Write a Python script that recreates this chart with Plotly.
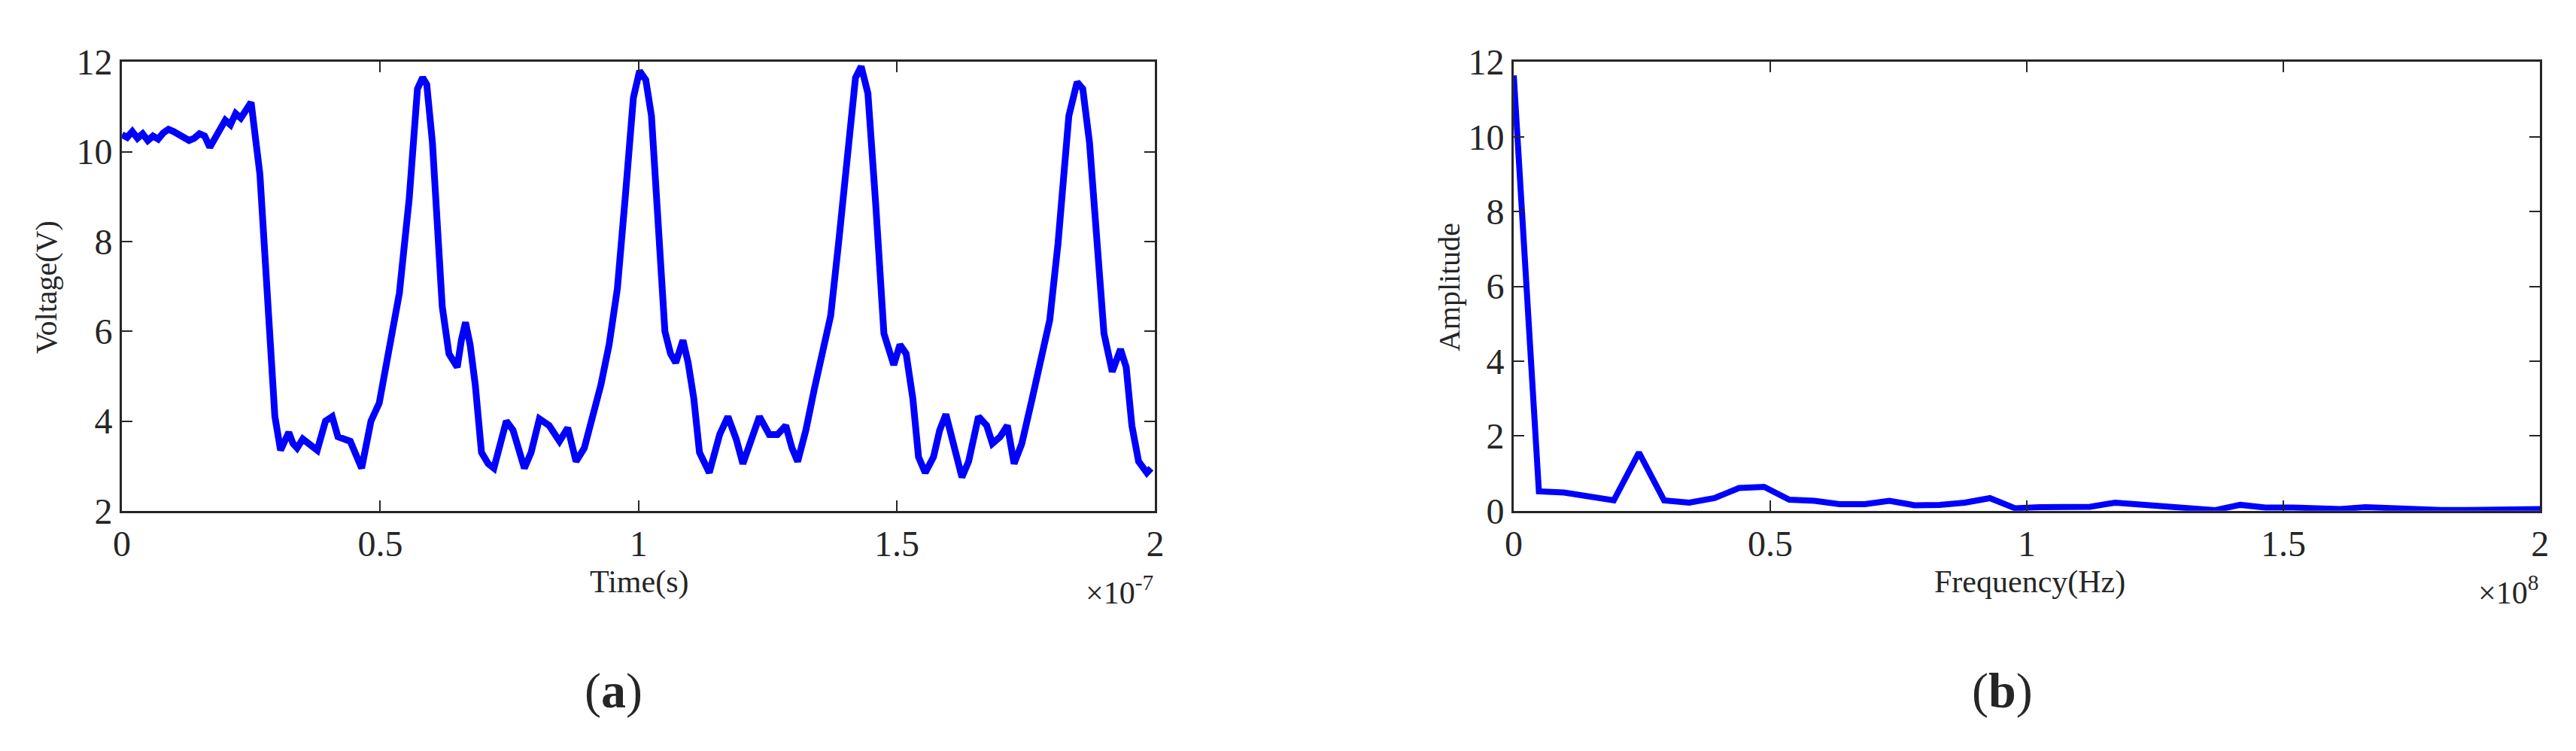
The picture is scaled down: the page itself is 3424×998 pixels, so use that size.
import plotly.graph_objects as go

# Time domain (x in units of 1e-7 s)
time_s = [0.0,0.01,0.02,0.03,0.04,0.05,0.06,0.07,0.08,0.09,0.10,0.11,0.12,0.13,0.14,0.15,0.16,0.17,0.18,0.19,0.20,0.21,0.22,0.23,0.24,0.25,
          0.267,0.283,0.296,0.307,0.323,0.331,0.339,0.35,0.36,0.378,0.394,0.407,0.418,0.442,0.464,0.482,0.498,0.521,0.537,0.556,0.572,0.582,0.590,
          0.601,0.609,0.620,0.633,0.649,0.657,0.665,0.674,0.684,0.696,0.709,0.720,0.731,0.744,0.757,0.768,0.779,0.792,0.808,0.827,0.847,0.863,
          0.879,0.895,0.911,0.927,0.943,0.959,0.974,0.990,1.002,1.014,1.025,1.038,1.051,1.062,1.072,1.086,1.096,1.107,1.118,1.137,1.157,1.173,
          1.189,1.202,1.218,1.234,1.253,1.269,1.285,1.297,1.308,1.324,1.340,1.356,1.372,1.388,1.404,1.420,1.431,1.444,1.459,1.475,1.494,1.506,
          1.518,1.531,1.542,1.555,1.571,1.583,1.595,1.610,1.626,1.639,1.658,1.674,1.685,1.700,1.714,1.727,1.742,1.762,1.777,1.796,1.812,1.833,
          1.849,1.860,1.873,1.886,1.901,1.917,1.933,1.944,1.955,1.968,1.984,1.992]
voltage = [10.38,10.32,10.45,10.3,10.4,10.25,10.35,10.28,10.42,10.5,10.45,10.38,10.3,10.25,10.3,10.4,10.35,10.1,10.3,10.5,10.7,10.6,10.85,10.75,10.95,11.1,
           9.5,6.2,4.1,3.35,3.75,3.5,3.4,3.6,3.5,3.35,4.0,4.1,3.65,3.55,2.95,4.0,4.4,5.9,6.85,8.95,11.4,11.65,11.5,
           10.2,8.6,6.55,5.5,5.2,5.8,6.2,5.7,4.8,3.3,3.05,2.95,3.5,4.0,3.8,3.35,2.95,3.3,4.05,3.9,3.55,3.85,
           3.1,3.4,4.1,4.8,5.7,6.95,8.95,11.2,11.8,11.6,10.8,8.45,6.0,5.5,5.3,5.8,5.3,4.5,3.3,2.85,3.7,4.1,
           3.6,3.05,3.6,4.1,3.7,3.7,3.9,3.4,3.1,3.8,4.7,5.5,6.35,8.05,10.0,11.65,11.9,11.3,8.85,5.95,5.25,5.7,
           5.5,4.5,3.2,2.85,3.2,3.8,4.15,3.4,2.75,3.1,4.1,3.9,3.5,3.65,3.9,3.05,3.5,4.5,5.3,6.25,7.95,10.8,
           11.55,11.4,10.2,8.25,5.95,5.1,5.6,5.2,3.9,3.1,2.85,2.95]

# Spectrum (x in units of 1e8 Hz)
freq_hz = [0.0,0.049,0.098,0.146,0.195,0.244,0.293,0.342,0.391,0.439,0.488,0.537,0.586,0.635,0.684,0.732,0.781,0.830,0.879,0.928,0.977,
           1.025,1.074,1.123,1.172,1.221,1.270,1.318,1.367,1.416,1.465,1.514,1.563,1.611,1.660,1.709,1.758,1.807,1.855,1.904,1.953,2.0]
amplitude = [11.64,0.52,0.49,0.40,0.28,1.56,0.28,0.22,0.34,0.61,0.64,0.30,0.27,0.18,0.18,0.27,0.15,0.16,0.22,0.34,0.07,
             0.10,0.12,0.11,0.22,0.19,0.12,0.07,0.02,0.16,0.09,0.09,0.07,0.05,0.10,0.06,0.02,0.02,0.02,0.02,0.04,0.05]

FONT = "Liberation Serif"
TC = "#262626"
fig = go.Figure()
fig.add_trace(go.Scatter(x=time_s, y=voltage, mode="lines", line=dict(color="#0000ff", width=9), xaxis="x", yaxis="y"))
fig.add_trace(go.Scatter(x=freq_hz, y=amplitude, mode="lines", line=dict(color="#0000ff", width=8), xaxis="x2", yaxis="y2"))

ax = dict(showgrid=False, zeroline=False, showline=True, linecolor=TC, linewidth=3, mirror="ticks",
          ticks="inside", ticklen=14, tickwidth=2, tickcolor=TC,
          tickfont=dict(family=FONT, size=48, color=TC))
fig.update_layout(
    width=3424, height=998, margin=dict(l=0, r=0, t=0, b=0),
    paper_bgcolor="white", plot_bgcolor="white", showlegend=False,
    xaxis=dict(ax, domain=[0.0418, 0.4457], range=[0, 2], tickvals=[0, 0.5, 1, 1.5, 2], ticktext=["0", "0.5", "1", "1.5", "2"], anchor="y"),
    yaxis=dict(ax, domain=[0.3176, 0.9489], range=[2, 12], tickvals=[2, 4, 6, 8, 10, 12], anchor="x"),
    xaxis2=dict(ax, domain=[0.5859, 0.9871], range=[0, 2], tickvals=[0, 0.5, 1, 1.5, 2], ticktext=["0", "0.5", "1", "1.5", "2"], anchor="y2"),
    yaxis2=dict(ax, domain=[0.3176, 0.9489], range=[0, 12], tickvals=[0, 2, 4, 6, 8, 10, 12], anchor="x2"),
)
def ann(x, y, text, size, angle=0, xanchor="center"):
    fig.add_annotation(x=x, y=y, xref="paper", yref="paper", text=text, showarrow=False, textangle=angle,
                       xanchor=xanchor, yanchor="middle", font=dict(family=FONT, size=size, color=TC))
ann(42/3424, 1-367/998, "Voltage(V)", 40, -90)
ann(835/3424, 1-781/998, "Time(s)", 42)
ann(1526/3424, 1-793/998, "×10<sup>-7</sup>", 42, xanchor="right")
ann(1920/3424, 1-367/998, "Amplitude", 40, -90)
ann(2697/3424, 1-781/998, "Frequency(Hz)", 42)
ann(3380/3424, 1-793/998, "×10<sup>8</sup>", 42, xanchor="right")
ann(801/3424, 1-934/998, "(<b>a</b>)", 66)
ann(2660/3424, 1-934/998, "(<b>b</b>)", 66)
fig.write_html("out.html")
